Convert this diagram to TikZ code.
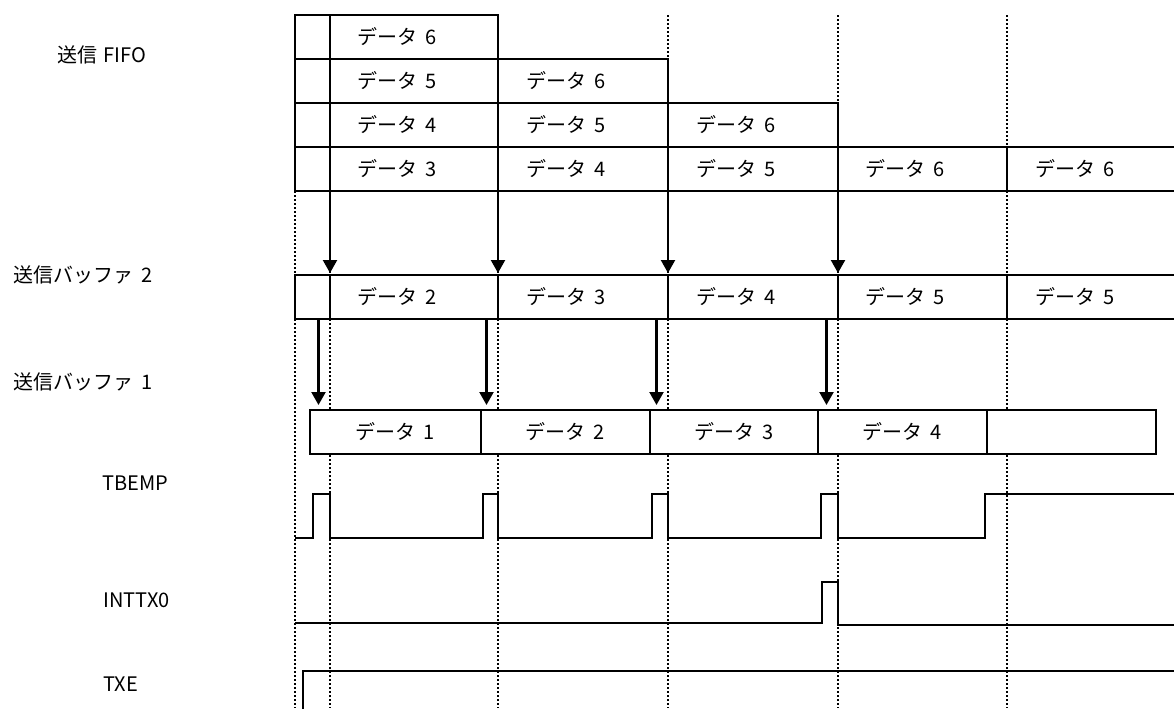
\documentclass[tikz,border=0pt]{standalone}
\usepackage{fontspec}
\newfontfamily\jpfont{Noto Sans CJK JP}
\usetikzlibrary{positioning,arrows.meta}
\newcommand{\dat}[1]{データ\hspace{0.4em}#1}

\begin{document}
\begin{tikzpicture}[
  x=0.5pt, y=-0.5pt,
  font=\jpfont\fontsize{10}{12}\selectfont,
  cell/.style={draw, fill=white, line width=1.2pt, minimum width=#1, minimum height=22pt, inner sep=0pt, outer sep=0pt},
  dcell/.style 2 args={cell=#1, label={[xshift=-8.5pt]center:\dat{#2}}},
  lbl/.style={anchor=west, inner sep=0pt},
  guide/.style={line width=1.1pt, dash pattern=on 1pt off 1pt},
  sig/.style={line width=1.1pt},
  arr/.style={-{Triangle[length=6.5pt,width=7pt]}, line width=1.1pt}
]
\useasboundingbox (0,0) rectangle (1174,708);

% time marks
\foreach \x in {295,330,498,668,838,1007} \draw[guide] (\x,15) -- (\x,708);

% transmit FIFO
\node[cell=17.5pt, anchor=north west] (f1a) at (295,15) {};
\node[dcell={84pt}{6}, right=0pt of f1a] (f1b) {};
\node[cell=17.5pt, below=0pt of f1a] (f2a) {};
\node[dcell={84pt}{5}, right=0pt of f2a] (f2b) {};
\node[dcell={85pt}{6}, right=0pt of f2b] (f2c) {};
\node[cell=17.5pt, below=0pt of f2a] (f3a) {};
\node[dcell={84pt}{4}, right=0pt of f3a] (f3b) {};
\node[dcell={85pt}{5}, right=0pt of f3b] (f3c) {};
\node[dcell={85pt}{6}, right=0pt of f3c] (f3d) {};
\node[cell=17.5pt, below=0pt of f3a] (f4a) {};
\node[dcell={84pt}{3}, right=0pt of f4a] (f4b) {};
\node[dcell={85pt}{4}, right=0pt of f4b] (f4c) {};
\node[dcell={85pt}{5}, right=0pt of f4c] (f4d) {};
\node[dcell={84.5pt}{6}, right=0pt of f4d] (f4e) {};
\node[dcell={85pt}{6}, right=0pt of f4e] (f4f) {};

% transmit buffer 2
\node[cell=17.5pt, anchor=north west] (b2a) at (295,275) {};
\node[dcell={84pt}{2}, right=0pt of b2a] (b2b) {};
\node[dcell={85pt}{3}, right=0pt of b2b] (b2c) {};
\node[dcell={85pt}{4}, right=0pt of b2c] (b2d) {};
\node[dcell={84.5pt}{5}, right=0pt of b2d] (b2e) {};
\node[dcell={85pt}{5}, right=0pt of b2e] (b2f) {};

% transmit buffer 1
\node[cell=85.5pt, anchor=north west] (b1a) at (310,410) {\dat{1}};
\node[cell=84.5pt, right=0pt of b1a] (b1b) {\dat{2}};
\node[cell=84pt, right=0pt of b1b] (b1c) {\dat{3}};
\node[cell=84.5pt, right=0pt of b1c] (b1d) {\dat{4}};
\node[cell=84.5pt, right=0pt of b1d] (b1e) {};

\foreach \c in {b,c,d,e} \draw[arr, shorten >=1pt] (f4\c.south west) -- (b2\c.north west);
\foreach \c in {b,c,d,e} {
  \coordinate (t\c) at ([xshift=-5.75pt]b2\c.south west);
  \draw[arr, shorten >=2.5pt] (t\c) -- (t\c |- b1a.north);
}

% signal names
\node[lbl] (lfifo) at (57,55) {送信\hspace{0.3em}FIFO};
\node[lbl] (lbuf2) at (13,275) {送信バッファ\hspace{0.4em}2};
\node[lbl] (lbuf1) at (13,382) {送信バッファ\hspace{0.4em}1};
\node[lbl] (ltbemp) at (102,483) {TBEMP};
\node[lbl] (linttx) at (103,600) {INTTX0};
\node[lbl] (ltxe) at (103,684) {TXE};

% waveforms
\draw[sig] (295,538) -| (313,494) -| (330,538) -| (483,494) -| (498,538) -| (652,494) -| (668,538) -| (821,494) -| (838,538) -| (985,494) -- (1190,494);
\draw[sig] (295,623) -| (822,582) -| (838,625) -- (1190,625);
\draw[sig] (303,720) |- (1190,671);
\end{tikzpicture}
\end{document}
